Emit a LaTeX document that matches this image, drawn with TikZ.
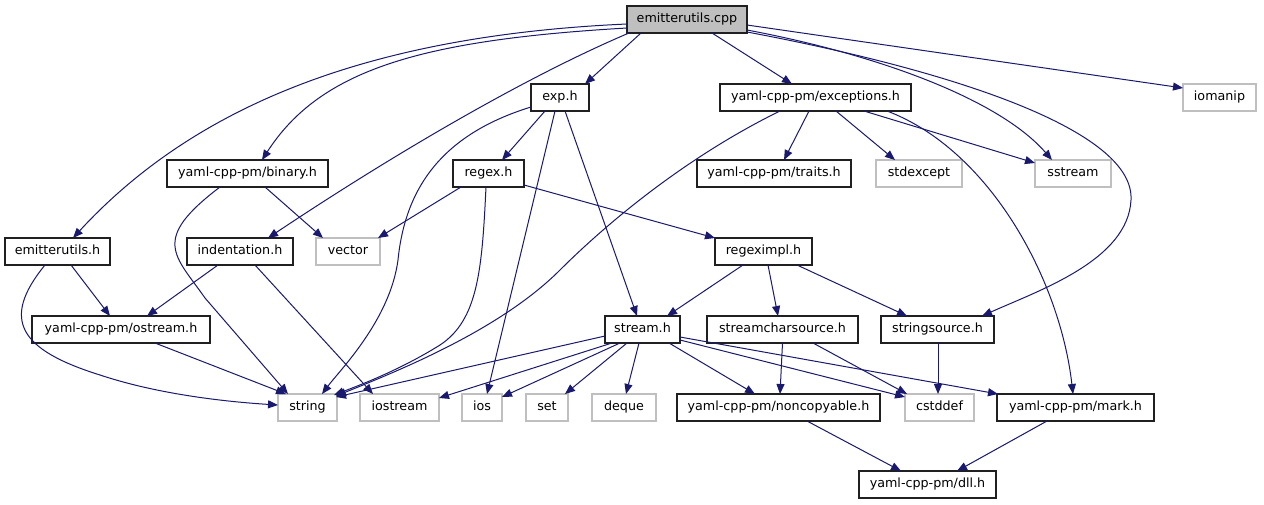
\documentclass[tikz,border=0pt]{standalone}
\usepackage{fontspec}
\setmainfont{DejaVu Sans}
\usetikzlibrary{arrows.meta}
\definecolor{edgec}{HTML}{191970}
\definecolor{extc}{HTML}{BFBFBF}
\definecolor{bordc}{HTML}{202020}
\begin{document}
\begin{tikzpicture}[x=1pt,y=-1pt,
  nd/.style={draw=bordc, line width=1.2pt, minimum height=27pt, inner sep=0pt, outer sep=0pt,
    font=\fontsize{12.7}{14}\selectfont, text height=9.5pt, text depth=2.7pt},
  ext/.style={nd, draw=extc},
  dep/.style={draw=edgec, line width=1pt, -{Triangle[length=10pt,width=8pt]}}]
\useasboundingbox[fill=white] (0,0) rectangle (1264,504);
% row 0
\node[nd, fill=extc, minimum width=120pt] (cpp) at (687,19.5) {emitterutils.cpp};
% row 1
\node[nd, minimum width=58pt] (exp) at (560,97.5) {exp.h};
\node[nd, minimum width=191pt] (exc) at (815.5,97.5) {yaml-cpp-pm/exceptions.h};
\node[ext, minimum width=73pt] (iomanip) at (1219.5,97.5) {iomanip};
% row 2
\node[nd, minimum width=161pt] (binary) at (247.5,173.5) {yaml-cpp-pm/binary.h};
\node[nd, minimum width=71pt] (regex) at (488.5,173.5) {regex.h};
\node[nd, minimum width=154pt] (traits) at (774,173.5) {yaml-cpp-pm/traits.h};
\node[ext, minimum width=86pt] (stdexcept) at (919,173.5) {stdexcept};
\node[ext, minimum width=76pt] (sstream) at (1073,173.5) {sstream};
% row 3
\node[nd, minimum width=105pt] (emuh) at (57.5,251.5) {emitterutils.h};
\node[nd, minimum width=106pt] (indent) at (240,251.5) {indentation.h};
\node[ext, minimum width=64pt] (vector) at (348,251.5) {vector};
\node[nd, minimum width=97pt] (rximpl) at (763.5,251.5) {regeximpl.h};
% row 4
\node[nd, minimum width=178pt] (ostream) at (121,329.5) {yaml-cpp-pm/ostream.h};
\node[nd, minimum width=75pt] (stream) at (642.5,329.5) {stream.h};
\node[nd, minimum width=151pt] (scs) at (782.5,329.5) {streamcharsource.h};
\node[nd, minimum width=113pt] (ssrc) at (937.5,329.5) {stringsource.h};
% row 5
\node[ext, minimum width=59pt] (string) at (307.5,407.5) {string};
\node[ext, minimum width=79pt] (iostream) at (399.5,407.5) {iostream};
\node[ext, minimum width=40pt] (ios) at (482,407.5) {ios};
\node[ext, minimum width=42pt] (set) at (547,407.5) {set};
\node[ext, minimum width=64pt] (deque) at (624,407.5) {deque};
\node[nd, minimum width=203pt] (noncopy) at (778.5,407.5) {yaml-cpp-pm/noncopyable.h};
\node[ext, minimum width=69pt] (cstddef) at (939.5,407.5) {cstddef};
\node[nd, minimum width=157pt] (mark) at (1075.5,407.5) {yaml-cpp-pm/mark.h};
% row 6
\node[nd, minimum width=137pt] (dll) at (927.5,484.5) {yaml-cpp-pm/dll.h};

% edges from emitterutils.cpp
\draw[dep] ([yshift=-4.5pt]cpp.west) .. controls (380,35) and (200,100) .. ([xshift=15.5pt]emuh.north);
\draw[dep] ([yshift=-8.5pt]cpp.west) .. controls (420,40) and (320,70) .. ([xshift=14.5pt]binary.north);
\draw[dep] ([xshift=-58pt]cpp.south) .. controls (530,75) and (400,150) .. ([xshift=28pt]indent.north);
\draw[dep] ([xshift=-46pt]cpp.south) -- ([xshift=25pt]exp.north);
\draw[dep] ([xshift=25pt]cpp.south) -- ([xshift=-23.5pt]exc.north);
\draw[dep] ([yshift=-10.5pt]cpp.east) .. controls (880,55) and (1000,100) .. ([xshift=-21pt]sstream.north);
\draw[dep] ([yshift=-12.5pt]cpp.east) .. controls (950,70) and (1135,130) .. (1131,200)
   .. controls (1128,260) and (1040,290) .. ([xshift=44.5pt]ssrc.north);
\draw[dep] ([yshift=-5.5pt]cpp.east) -- ([yshift=9.5pt]iomanip.west);
% exp.h
\draw[dep] ([yshift=-9.5pt]exp.west) .. controls (440,135) and (405,190) .. (398,260)
   .. controls (390,320) and (340,370) .. ([xshift=14.5pt]string.north);
\draw[dep] ([xshift=-15pt]exp.south) -- ([xshift=13.5pt]regex.north);
\draw[dep] ([xshift=-5pt]exp.south) -- ([xshift=5pt]ios.north);
\draw[dep] ([xshift=5pt]exp.south) -- ([xshift=-5.5pt]stream.north);
% exceptions.h
\draw[dep] ([xshift=-35.5pt]exc.south) .. controls (680,160) and (600,230) .. (560,270)
   .. controls (500,330) and (400,370) .. ([xshift=-1pt,yshift=-2pt]string.north east);
\draw[dep] ([xshift=-6.5pt]exc.south) -- ([xshift=10pt]traits.north);
\draw[dep] ([xshift=20.5pt]exc.south) -- ([xshift=-24pt]stdexcept.north);
\draw[dep] ([xshift=48.5pt]exc.south) -- ([yshift=10.5pt]sstream.west);
\draw[dep] ([xshift=71.5pt]exc.south) .. controls (990,150) and (1060,280) .. ([xshift=-2.5pt]mark.north);
% binary.h
\draw[dep] ([xshift=-27.5pt]binary.south) .. controls (150,240) and (175,255) .. (205,298)
   -- ([xshift=-19.5pt]string.north);
\draw[dep] ([xshift=17.5pt]binary.south) -- ([xshift=-25pt]vector.north);
% regex.h
\draw[dep] ([xshift=-27.5pt]regex.south) -- ([xshift=-2pt]vector.north east);
\draw[dep] ([xshift=-2.5pt]regex.south) .. controls (482,270) and (478,320) .. (440,345)
   .. controls (400,370) and (360,385) .. ([xshift=-3pt,yshift=-1pt]string.north east);
\draw[dep] ([yshift=-11.5pt]regex.east) -- (rximpl.north west);
% emitterutils.h
\draw[dep] ([xshift=-12.5pt]emuh.south) .. controls (0,320) and (20,350) .. (100,375)
   .. controls (160,395) and (230,402) .. ([yshift=2.5pt]string.west);
\draw[dep] ([xshift=13.5pt]emuh.south) -- ([xshift=-11pt]ostream.north);
% indentation.h
\draw[dep] ([xshift=-22pt]indent.south) -- ([xshift=26pt]ostream.north);
\draw[dep] ([xshift=15pt]indent.south) -- ([xshift=-26.5pt]iostream.north);
% regeximpl.h
\draw[dep] ([xshift=-20.5pt]rximpl.south) -- ([xshift=24.5pt]stream.north);
\draw[dep] ([xshift=4.5pt]rximpl.south) -- ([xshift=-4.5pt]scs.north);
\draw[dep] ([xshift=33.5pt]rximpl.south) -- ([xshift=-30.5pt]ssrc.north);
% ostream.h
\draw[dep] ([xshift=34pt]ostream.south) -- ([xshift=-21.5pt]string.north);
% stream.h
\draw[dep] ([yshift=-6.5pt]stream.west) -- ([xshift=-1pt,yshift=-3pt]string.north east);
\draw[dep] ([xshift=-30.5pt]stream.south) -- ([yshift=-4pt]iostream.north east);
\draw[dep] ([xshift=-22.5pt]stream.south) -- ([yshift=-3pt]ios.north east);
\draw[dep] ([xshift=-15.5pt]stream.south) -- ([xshift=18pt]set.north);
\draw[dep] ([xshift=-3.5pt]stream.south) -- ([xshift=2pt]deque.north);
\draw[dep] ([xshift=26.5pt]stream.south) -- ([xshift=-23.5pt]noncopy.north);
\draw[dep] ([yshift=-10.5pt]stream.east) -- ([yshift=-3pt]cstddef.north west);
\draw[dep] ([yshift=-7.5pt]stream.east) -- ([xshift=1pt]mark.north west);
% streamcharsource.h
\draw[dep] (scs.south) -- ([xshift=1.5pt]noncopy.north);
\draw[dep] ([xshift=30.5pt]scs.south) -- ([xshift=-32.5pt]cstddef.north);
% stringsource.h
\draw[dep] ([xshift=0.5pt]ssrc.south) -- ([xshift=-1.5pt]cstddef.north);
% to dll.h
\draw[dep] ([xshift=28.5pt]noncopy.south) -- ([xshift=-26.5pt]dll.north);
\draw[dep] ([xshift=-28.5pt]mark.south) -- ([xshift=29.5pt]dll.north);
\end{tikzpicture}
\end{document}
